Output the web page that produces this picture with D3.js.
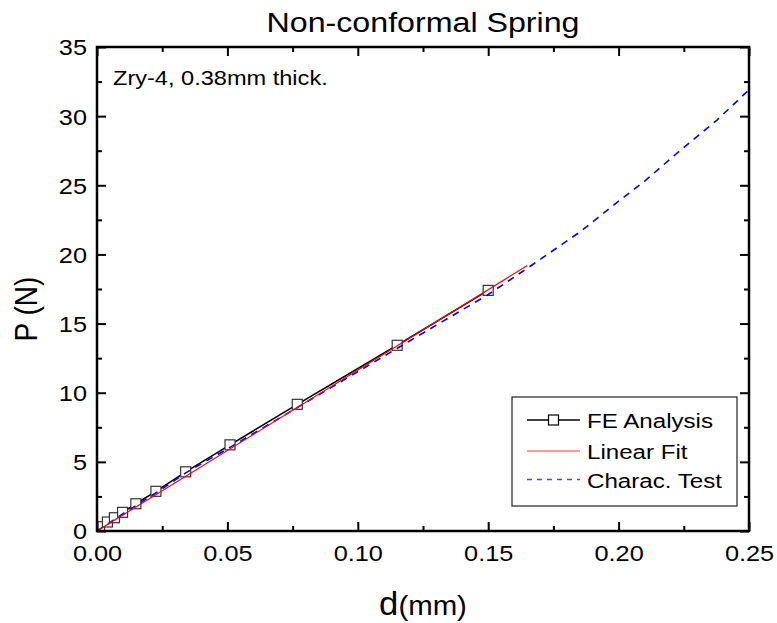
<!DOCTYPE html>
<html lang="en">
<head>
    <meta charset="utf-8">
    <title>Non-conformal Spring</title>
    <script src="https://d3js.org/d3.v7.min.js"></script>
    <style>
        body { margin: 0; background: #fff; }
        svg { display: block; }
        text { font-family: "Liberation Sans", Arial, sans-serif; fill: #000; }
    </style>
</head>
<body>
<svg id="chart"></svg>
<script>
    // FE analysis points (d in mm, P in N)
    var feD = [0.001, 0.004, 0.0067, 0.0098, 0.0149, 0.0226, 0.034, 0.051, 0.0768, 0.1151, 0.150];
    var feP = [0.31, 0.65, 0.96, 1.35, 1.97, 2.87, 4.28, 6.23, 9.16, 13.43, 17.4];

    // linear fit end points
    var fitD = [0, 0.165];
    var fitP = [0, 19.2];

    // characterisation test curve
    var testD = [0, 0.01, 0.023, 0.034, 0.051, 0.077, 0.115, 0.150, 0.165, 0.185, 0.200, 0.210, 0.2235, 0.2376, 0.250];
    var testP = [0, 1.25, 2.8, 4.2, 6.05, 8.95, 13.2, 17.1, 19.0, 21.6, 23.85, 25.3, 27.5, 29.7, 31.9];

    var xMajor = [0, 0.05, 0.10, 0.15, 0.20, 0.25];
    var xMinor = [0.025, 0.075, 0.125, 0.175, 0.225];
    var yMajor = [0, 5, 10, 15, 20, 25, 30, 35];
    var yMinor = [2.5, 7.5, 12.5, 17.5, 22.5, 27.5, 32.5];

    var legendNames = ["FE Analysis", "Linear Fit", "Charac. Test"];

    var W = 777, H = 623;
    var m = {left: 97, right: 28, top: 47, bottom: 92};
    var iw = W - m.left - m.right, ih = H - m.top - m.bottom;
    var sx = 1.15; // text looks horizontally stretched in the picture

    var svg = d3.select('#chart').attr('width', W).attr('height', H);
    var g = svg.append('g').attr('transform', 'translate(' + m.left + ',' + m.top + ')');

    var x = d3.scaleLinear().domain([0, 0.25]).range([0, iw]);
    var y = d3.scaleLinear().domain([0, 35]).range([ih, 0]);

    function zip(a, b) { return a.map(function(v, i) { return [v, b[i]]; }); }
    var line = d3.line().x(function(d) { return x(d[0]); }).y(function(d) { return y(d[1]); });

    // clip so the dashed curve stops at the frame
    svg.append('defs').append('clipPath').attr('id', 'clip')
        .append('rect').attr('width', iw).attr('height', ih);
    var plot = g.append('g').attr('clip-path', 'url(#clip)');

    plot.append('path').datum(zip(feD, feP)).attr('d', line)
        .attr('fill', 'none').attr('stroke', '#000').attr('stroke-width', 1.6);
    plot.selectAll('.sq').data(zip(feD, feP)).enter().append('rect')
        .attr('class', 'sq')
        .attr('x', function(d) { return x(d[0]) - 5; })
        .attr('y', function(d) { return y(d[1]) - 5; })
        .attr('width', 10).attr('height', 10)
        .attr('fill', '#fff').attr('stroke', '#333').attr('stroke-width', 1.2);
    plot.append('path').datum(zip(testD, testP)).attr('d', line)
        .attr('fill', 'none').attr('stroke', '#0000ff').attr('stroke-width', 1.6)
        .attr('stroke-dasharray', '7,6');
    plot.append('path').datum(zip(fitD, fitP)).attr('d', line)
        .attr('fill', 'none').attr('stroke', '#ff0000').attr('stroke-width', 1.2);

    // axes, ticks pointing inward on all four sides
    function ticks(axis, vals, size, fmt) {
        return axis.tickValues(vals).tickSize(size).tickFormat(fmt);
    }
    var bx = g.append('g').attr('transform', 'translate(0,' + ih + ')')
        .call(ticks(d3.axisBottom(x), xMajor, -9, d3.format('.2f')));
    g.append('g').attr('transform', 'translate(0,' + ih + ')')
        .call(ticks(d3.axisBottom(x), xMinor, -5, ''));
    g.append('g').call(ticks(d3.axisTop(x), xMajor, -9, ''));
    g.append('g').call(ticks(d3.axisTop(x), xMinor, -5, ''));
    var ly = g.append('g').call(ticks(d3.axisLeft(y), yMajor, -9, d3.format('d')));
    g.append('g').call(ticks(d3.axisLeft(y), yMinor, -5, ''));
    g.append('g').attr('transform', 'translate(' + iw + ',0)')
        .call(ticks(d3.axisRight(y), yMajor, -9, ''));
    g.append('g').attr('transform', 'translate(' + iw + ',0)')
        .call(ticks(d3.axisRight(y), yMinor, -5, ''));

    g.selectAll('.domain').remove();
    g.selectAll('.tick line').attr('stroke', '#000').attr('stroke-width', 2);

    bx.selectAll('text').attr('y', 0).attr('dy', null)
        .attr('font-size', 22).attr('font-family', '"Liberation Sans", Arial, sans-serif')
        .attr('transform', 'translate(0,30) scale(' + sx + ',1)');
    ly.selectAll('text').attr('x', 0).attr('dy', '0.36em')
        .attr('font-size', 22).attr('font-family', '"Liberation Sans", Arial, sans-serif')
        .attr('transform', 'translate(-10,0) scale(' + sx + ',1)');

    g.append('rect').attr('width', iw).attr('height', ih)
        .attr('fill', 'none').attr('stroke', '#000').attr('stroke-width', 2.5);

    function label(txt, px, py, size, anchor) {
        return svg.append('text').text(txt)
            .attr('transform', 'translate(' + px + ',' + py + ') scale(' + sx + ',1)')
            .attr('font-size', size).attr('text-anchor', anchor || 'start');
    }

    label('Non-conformal Spring', m.left + iw / 2, 32, 28, 'middle');
    label('Zry-4, 0.38mm thick.', 113, 85, 20.5);

    var xl = svg.append('text')
        .attr('transform', 'translate(' + (m.left + iw / 2) + ',615) scale(1.05,1)')
        .attr('text-anchor', 'middle');
    xl.append('tspan').attr('font-size', 33).text('d');
    xl.append('tspan').attr('font-size', 28).text('(mm)');

    svg.append('text').text('P (N)')
        .attr('transform', 'translate(37,309) scale(1.1,1) rotate(-90)')
        .attr('text-anchor', 'middle').attr('font-size', 28);

    // legend
    var lg = svg.append('g');
    lg.append('rect').attr('x', 512).attr('y', 397).attr('width', 225).attr('height', 109)
        .attr('fill', '#fff').attr('stroke', '#222').attr('stroke-width', 1.2);
    var rows = [420, 451, 479.5];
    lg.append('line').attr('x1', 527).attr('x2', 580).attr('y1', rows[0]).attr('y2', rows[0])
        .attr('stroke', '#000').attr('stroke-width', 1.3);
    lg.append('rect').attr('x', 548.5).attr('y', rows[0] - 5).attr('width', 10).attr('height', 10)
        .attr('fill', '#fff').attr('stroke', '#000').attr('stroke-width', 1.2);
    lg.append('line').attr('x1', 527).attr('x2', 580).attr('y1', rows[1]).attr('y2', rows[1])
        .attr('stroke', '#ff3333').attr('stroke-width', 1.2);
    lg.append('line').attr('x1', 527).attr('x2', 580).attr('y1', rows[2]).attr('y2', rows[2])
        .attr('stroke', '#4444ff').attr('stroke-width', 1.4).attr('stroke-dasharray', '5,5');
    legendNames.forEach(function(n, i) {
        label(n, 587, rows[i] + 8, 21);
    });
</script>
</body>
</html>
